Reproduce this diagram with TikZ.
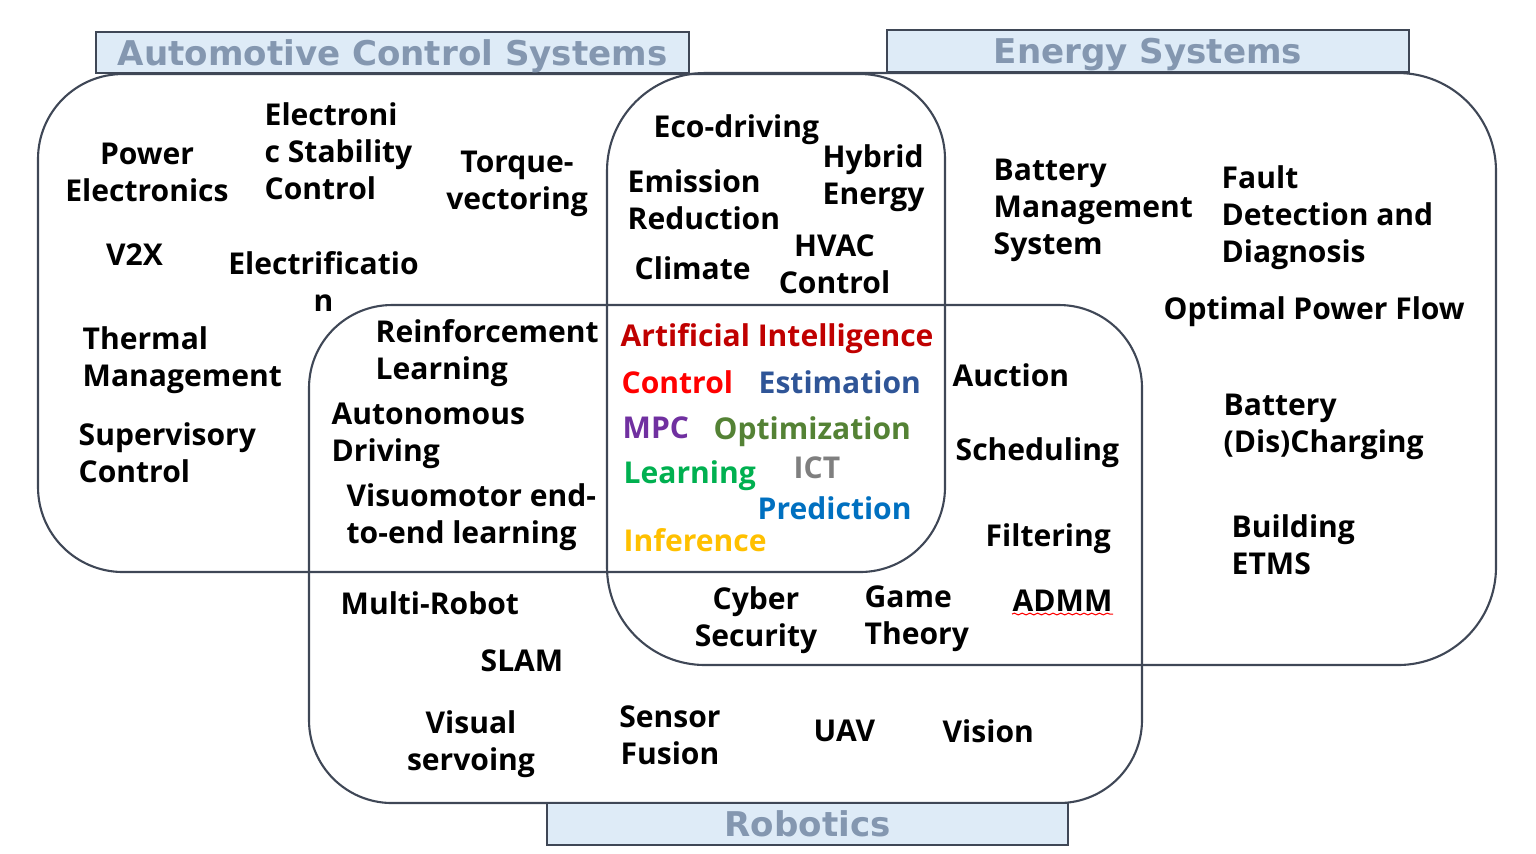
\documentclass[tikz,border=0pt]{standalone}
\usepackage{fontspec}
\setmainfont{Noto Sans}
\newfontfamily\titlefont{DejaVu Sans}
\IfFontExistsTF{Noto Sans Bold}
  {\newfontfamily\termfont{Noto Sans Bold}\def\termsize{8.55}}
  {\IfFontExistsTF{Open Sans Bold}
    {\newfontfamily\termfont{Open Sans Bold}\def\termsize{8.55}}
    {\newfontfamily\termfont{Noto Sans}[FakeBold=1.6]\def\termsize{9.1}}}
\usepackage{xcolor}
\usetikzlibrary{decorations.pathmorphing}

\definecolor{edgegray}{HTML}{3F4756}
\definecolor{titlegray}{HTML}{8497B0}
\definecolor{titlefill}{HTML}{DEEBF7}
\definecolor{aired}{HTML}{C00000}
\definecolor{ctrlred}{HTML}{FF0000}
\definecolor{estblue}{HTML}{2F5597}
\definecolor{mpcpurple}{HTML}{7030A0}
\definecolor{optgreen}{HTML}{548235}
\definecolor{learngreen}{HTML}{00B050}
\definecolor{ictgray}{HTML}{7F7F7F}
\definecolor{predblue}{HTML}{0070C0}
\definecolor{infgold}{HTML}{FFC000}

\begin{document}
\begin{tikzpicture}[
  region/.style={draw=edgegray,line width=0.6pt},
  title/.style={draw=edgegray,line width=0.6pt,fill=titlefill,text=titlegray,
    font=\titlefont\bfseries\fontsize{9.7}{11}\selectfont,inner sep=0pt,text depth=0pt},
  term/.style={inner sep=0pt,font=\termfont\fontsize{\termsize}{10.4}\selectfont},
  left term/.style={term,align=left,anchor=base west},
  mid term/.style={term,align=center,anchor=base}]
  \useasboundingbox (0,0) rectangle (15.36,-8.53);
  % the three domains
  \draw[region,rounded corners=0.85cm] (0.38,-0.74) rectangle (9.45,-5.72);
  \draw[region,rounded corners=0.98cm] (6.07,-0.73) rectangle (14.96,-6.65);
  \draw[region,rounded corners=0.83cm] (3.09,-3.05) rectangle (11.42,-8.03);
  \node[title,minimum width=5.93cm,minimum height=0.41cm] (autotitle) at (3.925,-0.525) {Automotive Control Systems};
  \node[title,minimum width=5.22cm,minimum height=0.42cm] (energytitle) at (11.48,-0.51) {Energy Systems};
  \node[title,minimum width=5.21cm,minimum height=0.42cm] (robotitle) at (8.075,-8.24) {Robotics};

  % automotive (multi-line nodes: base is the last line)
  \node[mid term] (power) at (1.47,-2.01) {Power\\Electronics};
  \node[left term] (esc) at (2.64,-1.99) {Electroni\\c Stability\\Control};
  \node[mid term] (torque) at (5.17,-2.09) {Torque-\\vectoring};
  \node[mid term] (v2x) at (1.345,-2.65) {V2X};
  \node[mid term] (electr) at (3.235,-3.11) {Electrificatio\\n};
  \node[left term] (thermal) at (0.82,-3.86) {Thermal\\Management};
  \node[left term] (supervisory) at (0.78,-4.82) {Supervisory\\Control};

  % automotive and energy
  \node[left term] (eco) at (6.53,-1.37) {Eco-driving};
  \node[left term] (hybrid) at (8.22,-2.04) {Hybrid\\Energy};
  \node[left term] (emission) at (6.27,-2.29) {Emission\\Reduction};
  \node[mid term] (hvac) at (8.345,-2.93) {HVAC\\Control};
  \node[left term] (climate) at (6.34,-2.79) {Climate};

  % automotive and robotics
  \node[left term] (reinforcement) at (3.75,-3.79) {Reinforcement\\Learning};
  \node[left term] (autonomous) at (3.31,-4.61) {Autonomous\\Driving};
  \node[left term] (visuomotor) at (3.46,-5.43) {Visuomotor end-\\to-end learning};

  % all three
  \node[left term,text=aired] (ai) at (6.20,-3.46) {Artificial Intelligence};
  \node[left term,text=ctrlred] (control) at (6.21,-3.93) {Control};
  \node[left term,text=estblue] (estimation) at (7.58,-3.93) {Estimation};
  \node[left term,text=mpcpurple] (mpc) at (6.22,-4.38) {MPC};
  \node[left term,text=optgreen] (optimization) at (7.13,-4.39) {Optimization};
  \node[left term,text=learngreen] (learning) at (6.23,-4.83) {Learning};
  \node[left term,text=ictgray] (ict) at (7.93,-4.78) {ICT};
  \node[left term,text=predblue] (prediction) at (7.57,-5.19) {Prediction};
  \node[left term,text=infgold] (inference) at (6.23,-5.51) {Inference};

  % energy and robotics
  \node[left term] (auction) at (9.52,-3.86) {Auction};
  \node[left term] (scheduling) at (9.55,-4.60) {Scheduling};
  \node[left term] (filtering) at (9.85,-5.46) {Filtering};
  \node[left term] (admm) at (10.12,-6.11) {ADMM};
  \draw[red,line width=0.3pt,decorate,decoration={snake,amplitude=0.25pt,segment length=2.2pt}]
    ([yshift=-0.03cm]admm.base west) -- ([yshift=-0.03cm]admm.base east);
  \node[mid term] (cyber) at (7.56,-6.46) {Cyber\\Security};
  \node[left term] (game) at (8.64,-6.44) {Game\\Theory};

  % energy
  \node[left term] (bms) at (9.93,-2.54) {Battery\\Management\\System};
  \node[left term] (fault) at (12.21,-2.62) {Fault\\Detection and\\Diagnosis};
  \node[left term] (opf) at (11.63,-3.19) {Optimal Power Flow};
  \node[left term] (charging) at (12.23,-4.52) {Battery\\(Dis)Charging};
  \node[left term] (building) at (12.31,-5.74) {Building\\ETMS};

  % robotics
  \node[left term] (multirobot) at (3.40,-6.14) {Multi-Robot};
  \node[left term] (slam) at (4.80,-6.71) {SLAM};
  \node[mid term] (visual) at (4.71,-7.70) {Visual\\servoing};
  \node[mid term] (sensor) at (6.70,-7.64) {Sensor\\Fusion};
  \node[left term] (uav) at (8.13,-7.41) {UAV};
  \node[left term] (vision) at (9.42,-7.42) {Vision};
\end{tikzpicture}
\end{document}
